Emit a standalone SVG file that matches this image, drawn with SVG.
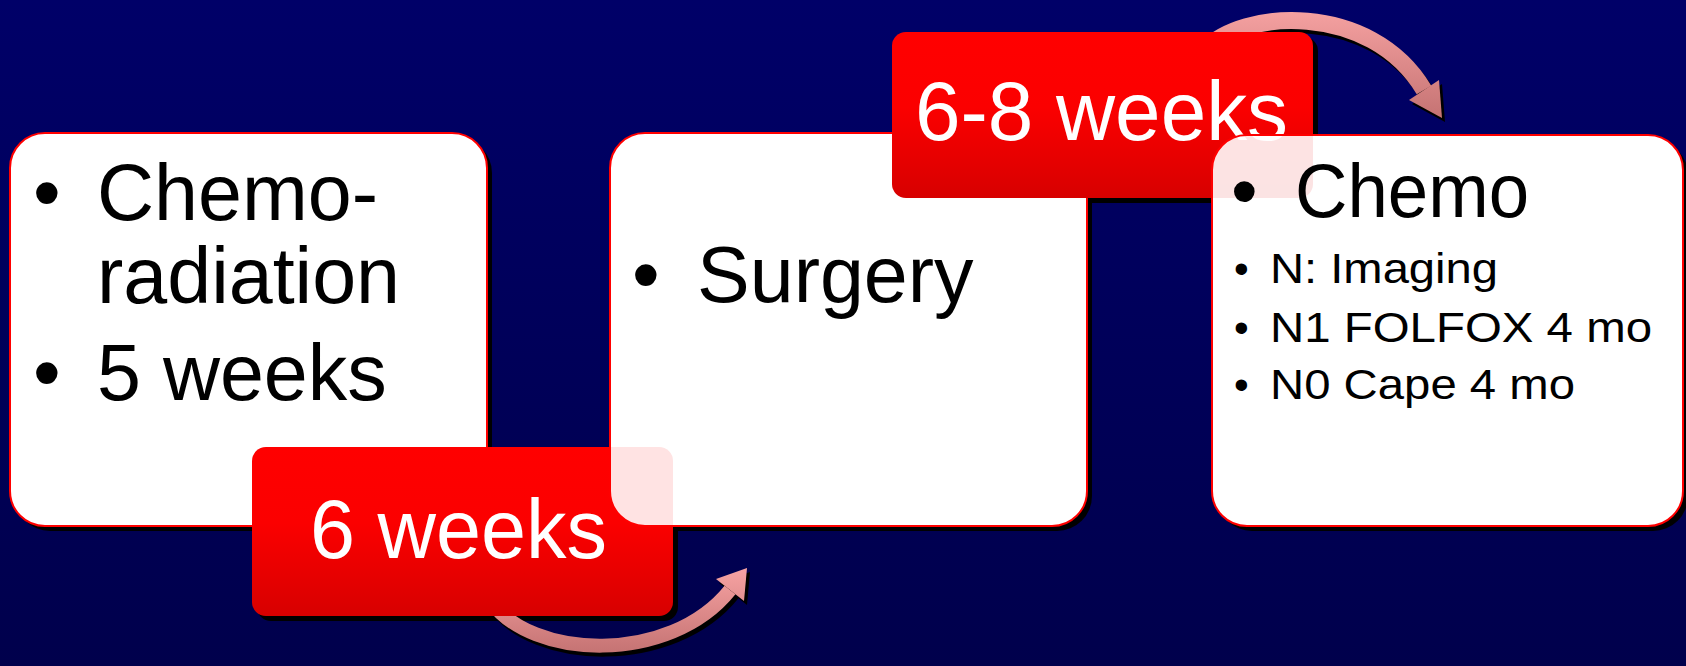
<svg xmlns="http://www.w3.org/2000/svg" width="1686" height="666" viewBox="0 0 1686 666">
  <defs>
    <linearGradient id="bg" x1="0" y1="0" x2="0" y2="1">
      <stop offset="0" stop-color="#000068"/>
      <stop offset="1" stop-color="#00004c"/>
    </linearGradient>
    <linearGradient id="lbl" x1="0" y1="0" x2="0" y2="1">
      <stop offset="0" stop-color="#ff0000"/>
      <stop offset="0.45" stop-color="#fb0000"/>
      <stop offset="1" stop-color="#d70000"/>
    </linearGradient>
    <linearGradient id="arr1" gradientUnits="userSpaceOnUse" x1="0" y1="566" x2="0" y2="658">
      <stop offset="0" stop-color="#f8a4a4"/>
      <stop offset="1" stop-color="#c27070"/>
    </linearGradient>
    <linearGradient id="arr2" gradientUnits="userSpaceOnUse" x1="0" y1="4" x2="0" y2="120">
      <stop offset="0" stop-color="#f8a4a4"/>
      <stop offset="1" stop-color="#c47272"/>
    </linearGradient>
    <style>
      .box { fill: #ffffff; fill-opacity: 0.89; stroke: #ff0000; stroke-width: 2; }
      .box1 { fill: #ffffff; stroke: #ff0000; stroke-width: 2; }
      .under { fill: #ffffff; }
      .shadow { fill: #000000; }
      .label { fill: url(#lbl); }
      .t { font-family: "Liberation Sans", Arial, sans-serif; fill: #000000; }
      .lt { font-family: "Liberation Sans", Arial, sans-serif; fill: #ffffff; font-size: 83px; }
    </style>
  </defs>

  <rect x="0" y="0" width="1686" height="666" fill="url(#bg)"/>

  <!-- shadows and white underlays -->
  <g id="base">
    <rect class="shadow" x="15" y="138" width="477" height="393" rx="35"/>
    <rect class="shadow" x="615" y="138" width="477" height="393" rx="35"/>
    <rect class="shadow" x="1217" y="140" width="471" height="391" rx="35"/>
    <rect class="shadow" x="257" y="452" width="421" height="169" rx="14"/>
    <rect class="shadow" x="897" y="37" width="421" height="166" rx="14"/>
    <rect class="under" x="610" y="133" width="477" height="393" rx="35"/>
    <rect class="under" x="1212" y="135" width="471" height="391" rx="35"/>
  </g>

  <!-- connectors -->
  <g id="connectors">
    <g id="arrow-1">
      <g transform="translate(3,4)" fill="#000" stroke="#000">
        <path d="M490,600 C530,660 670,665 730,590" fill="none" stroke-width="14"/>
        <polygon points="747,568 716,579 744,601" stroke="none"/>
      </g>
      <path d="M490,600 C530,660 670,665 730,590" fill="none" stroke="url(#arr1)" stroke-width="14"/>
      <polygon points="747,568 716,579 744,601" fill="url(#arr1)"/>
    </g>
    <g id="arrow-2">
      <g transform="translate(3,4)" fill="#000" stroke="#000">
        <path d="M1205,50 C1240,10 1370,0 1424,90" fill="none" stroke-width="17"/>
        <polygon points="1409,100 1439,80 1442,118" stroke="none"/>
      </g>
      <path d="M1205,50 C1240,10 1370,0 1424,90" fill="none" stroke="url(#arr2)" stroke-width="17"/>
      <polygon points="1409,100 1439,80 1442,118" fill="url(#arr2)"/>
    </g>
  </g>

  <g id="node-chemoradiation">
    <rect class="box1" x="10" y="133" width="477" height="393" rx="35"/>
    <text class="t" font-size="79" x="33" y="220">•</text>
    <text class="t" font-size="79" x="97" y="220">Chemo-</text>
    <text class="t" font-size="79" x="97" y="303">radiation</text>
    <text class="t" font-size="79" x="33" y="400">•</text>
    <text class="t" font-size="79" x="97" y="400">5 weeks</text>
  </g>

  <g id="label-6-weeks">
    <rect class="label" x="252" y="447" width="421" height="169" rx="14"/>
    <text class="lt" x="310" y="558" textLength="297" lengthAdjust="spacingAndGlyphs">6 weeks</text>
  </g>

  <g id="node-surgery">
    <rect class="box" x="610" y="133" width="477" height="393" rx="35"/>
    <text class="t" font-size="79" x="632" y="302">•</text>
    <text class="t" font-size="79" x="697" y="302">Surgery</text>
  </g>

  <g id="label-6-8-weeks">
    <rect class="label" x="892" y="32" width="421" height="166" rx="14"/>
    <text class="lt" x="915" y="140" textLength="373" lengthAdjust="spacingAndGlyphs">6-8 weeks</text>
  </g>

  <g id="node-chemo">
    <rect class="box" x="1212" y="135" width="471" height="391" rx="35"/>
    <text class="t" font-size="76" x="1231" y="217">•</text>
    <text class="t" font-size="76" x="1295" y="217" textLength="234" lengthAdjust="spacingAndGlyphs">Chemo</text>
    <text class="t" font-size="42" x="1234" y="283">•</text>
    <text class="t" font-size="42" x="1270" y="283" textLength="228" lengthAdjust="spacingAndGlyphs">N: Imaging</text>
    <text class="t" font-size="42" x="1234" y="342">•</text>
    <text class="t" font-size="42" x="1270" y="342" textLength="382" lengthAdjust="spacingAndGlyphs">N1 FOLFOX 4 mo</text>
    <text class="t" font-size="42" x="1234" y="399">•</text>
    <text class="t" font-size="42" x="1270" y="399" textLength="305" lengthAdjust="spacingAndGlyphs">N0 Cape 4 mo</text>
  </g>
</svg>
